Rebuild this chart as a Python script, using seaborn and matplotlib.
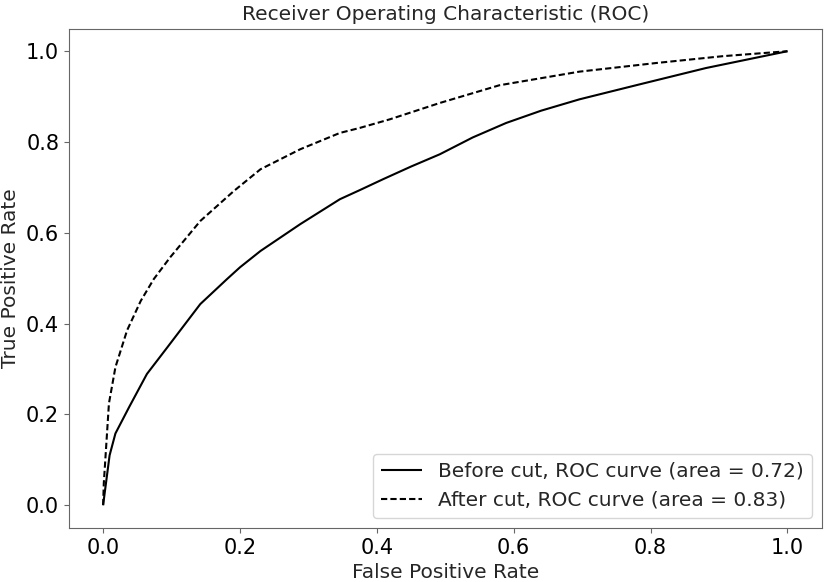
import matplotlib
matplotlib.use("Agg")
import matplotlib.pyplot as plt
import seaborn as sns
import pandas as pd

# ROC curve points
fpr_before = [0.0, 0.0095, 0.018, 0.038, 0.064, 0.094, 0.142, 0.181, 0.20, 0.23,
              0.288, 0.346, 0.375, 0.409, 0.45, 0.492, 0.54, 0.589, 0.64, 0.696,
              0.784, 0.881, 1.0]
tpr_before = [0.0, 0.11, 0.158, 0.216, 0.289, 0.348, 0.443, 0.498, 0.524, 0.56,
              0.619, 0.674, 0.694, 0.718, 0.746, 0.773, 0.810, 0.842, 0.869, 0.894,
              0.927, 0.963, 1.0]

fpr_after = [0.0, 0.001, 0.0085, 0.018, 0.035, 0.055, 0.074, 0.098, 0.142, 0.191,
             0.230, 0.288, 0.346, 0.375, 0.419, 0.492, 0.579, 0.696, 0.808, 0.905, 1.0]
tpr_after = [0.0, 0.048, 0.224, 0.304, 0.385, 0.45, 0.498, 0.546, 0.626, 0.692,
             0.74, 0.784, 0.82, 0.831, 0.85, 0.886, 0.925, 0.955, 0.974, 0.989, 1.0]

label_before = "Before cut, ROC curve (area = 0.72)"
label_after = "After cut, ROC curve (area = 0.83)"

sns.set_style("ticks")
plt.rcParams['font.family'] = ['DejaVu Sans']
plt.rcParams['axes.edgecolor'] = '0.4'
plt.rcParams['xtick.color'] = '0.4'
plt.rcParams['ytick.color'] = '0.4'
plt.rcParams['xtick.labelcolor'] = 'black'
plt.rcParams['ytick.labelcolor'] = 'black'

df = pd.concat([
    pd.DataFrame({'fpr': fpr_before, 'tpr': tpr_before, 'curve': label_before}),
    pd.DataFrame({'fpr': fpr_after, 'tpr': tpr_after, 'curve': label_after}),
])

fig, ax = plt.subplots(figsize=(8.3, 5.82), dpi=100)
fig.subplots_adjust(left=0.083, right=0.990, bottom=0.093, top=0.951)

sns.lineplot(data=df, x='fpr', y='tpr', hue='curve', style='curve',
             palette=['black', 'black'], dashes=[(1, 0), (3, 1.5)],
             sort=False, estimator=None, linewidth=1.5, ax=ax)

ax.set_xlim(-0.05, 1.05)
ax.set_ylim(-0.05, 1.05)
ax.set_title("Receiver Operating Characteristic (ROC)", fontsize=14.5)
ax.set_xlabel("False Positive Rate", fontsize=14.5)
ax.set_ylabel("True Positive Rate", fontsize=14.5)
ax.tick_params(labelsize=15)
leg = ax.legend(loc='lower right', fontsize=14.5, title=None)

fig.savefig("out.png", dpi=100)
